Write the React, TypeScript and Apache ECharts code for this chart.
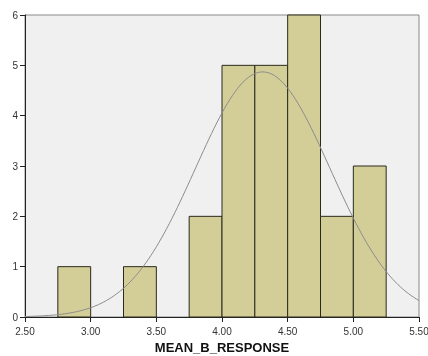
import React, { useEffect, useRef } from "react";
import * as echarts from "echarts";

const binStarts = [2.75, 3.0, 3.25, 3.5, 3.75, 4.0, 4.25, 4.5, 4.75, 5.0];
const binWidth = 0.25;
const counts = [1, 0, 1, 0, 2, 5, 5, 6, 2, 3];
const xTickLabels = ["2.50", "3.00", "3.50", "4.00", "4.50", "5.00", "5.50"];
const yTickLabels = ["0", "1", "2", "3", "4", "5", "6"];
const fitMean = 4.31;
const fitSd = 0.512;
const nTotal = 25;

export default function App() {
  const ref = useRef<HTMLDivElement>(null);
  useEffect(() => {
    if (!ref.current) return;
    const chart = echarts.init(ref.current, undefined, { renderer: "svg" });
    const barData = binStarts
      .map((s, i) => [s, s + binWidth, counts[i]])
      .filter((d) => d[2] > 0);
    const curve: number[][] = [];
    for (let k = 0; k <= 150; k++) {
      const x = 2.5 + (3 * k) / 150;
      const z = (x - fitMean) / fitSd;
      const y = (nTotal * binWidth) / (fitSd * Math.sqrt(2 * Math.PI)) * Math.exp(-0.5 * z * z);
      curve.push([x, y]);
    }
    chart.setOption({
      animation: false,
      grid: {
        left: 25,
        right: 9,
        top: 15,
        bottom: 39,
        outerBoundsMode: "none",
        containLabel: false,
        show: true,
        backgroundColor: "#f0f0f0",
        borderColor: "#8a8a8a",
        borderWidth: 1,
      },
      xAxis: {
        type: "value",
        min: 2.5,
        max: 5.5,
        interval: 0.5,
        name: "MEAN_B_RESPONSE",
        nameLocation: "middle",
        nameGap: 23,
        nameTextStyle: { fontFamily: "Liberation Sans, Arial", fontSize: 13, fontWeight: "bold", color: "#111" },
        axisLine: { show: true, lineStyle: { color: "#222", width: 1 } },
        axisTick: { show: true, inside: false, length: 5, lineStyle: { color: "#222" } },
        axisLabel: {
          fontFamily: "Liberation Sans, Arial",
          fontSize: 10,
          color: "#333",
          margin: 9,
          formatter: (v: number) => {
            const idx = Math.round((v - 2.5) / 0.5);
            return xTickLabels[idx] ?? v.toFixed(2);
          },
        },
        splitLine: { show: false },
      },
      yAxis: {
        type: "value",
        min: 0,
        max: 6,
        interval: 1,
        axisLine: { show: true, lineStyle: { color: "#222", width: 1 } },
        axisTick: { show: true, inside: false, length: 5, lineStyle: { color: "#222" } },
        axisLabel: {
          fontFamily: "Liberation Sans, Arial",
          fontSize: 10,
          color: "#333",
          margin: 7,
          formatter: (v: number) => yTickLabels[Math.round(v)] ?? String(v),
        },
        splitLine: { show: false },
      },
      series: [
        {
          type: "custom",
          data: barData,
          encode: { x: [0, 1], y: 2 },
          renderItem: (params: any, api: any) => {
            const p0 = api.coord([api.value(0), api.value(2)]);
            const p1 = api.coord([api.value(1), 0]);
            return {
              type: "rect",
              shape: { x: p0[0], y: p0[1], width: p1[0] - p0[0], height: p1[1] - p0[1] },
              style: { fill: "#d3ce98", stroke: "#2a2a1c", lineWidth: 1 },
            };
          },
          z: 2,
        },
        {
          type: "line",
          data: curve,
          showSymbol: false,
          symbol: "none",
          smooth: false,
          lineStyle: { color: "#8c8c8c", width: 1 },
          z: 3,
        },
      ],
    });
    return () => chart.dispose();
  }, []);
  return <div ref={ref} style={{ position: "fixed", left: 0, top: 0, width: 428, height: 356 }} />;
}
